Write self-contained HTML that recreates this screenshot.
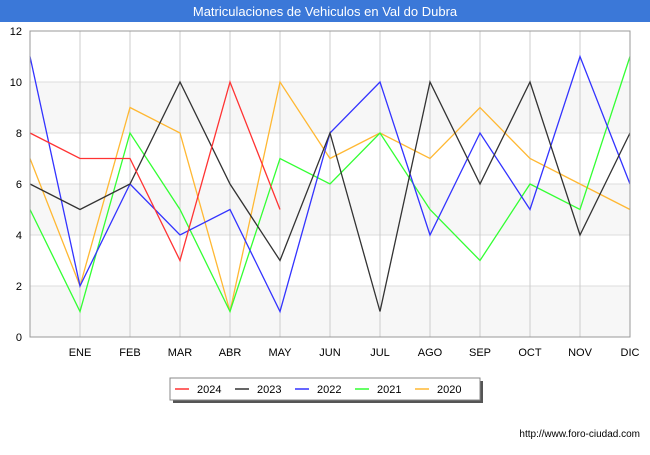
<!DOCTYPE html>
<html><head><meta charset="utf-8"><style>
body{margin:0;background:#fff;font-family:"Liberation Sans","DejaVu Sans",sans-serif;}
</style></head><body>
<svg width="650" height="450" xmlns="http://www.w3.org/2000/svg" font-family="Liberation Sans, DejaVu Sans, sans-serif">
<rect x="0" y="0" width="650" height="450" fill="#fff"/>
<rect x="0" y="0" width="650" height="22" fill="#3b78d8"/>
<text x="325" y="16" text-anchor="middle" fill="#fff" font-size="13">Matriculaciones de Vehiculos en Val do Dubra</text>
<g id="grid"></g>
<g id="series"></g>
<g id="axes"></g>
<g>
<rect x="173" y="381" width="310" height="22" fill="#555"/>
<rect x="170" y="378" width="310" height="22" fill="#fff" stroke="#888"/>
<g id="legend"></g>
</g>
<text x="640" y="437" text-anchor="end" font-size="10" fill="#000">http://www.foro-ciudad.com</text>
</svg>
<script>
const months=["","ENE","FEB","MAR","ABR","MAY","JUN","JUL","AGO","SEP","OCT","NOV","DIC"];
const yTicks=[0,2,4,6,8,10,12];
const years=["2024","2023","2022","2021","2020"];
const colors=["#ff3333","#333333","#3333ff","#33ff33","#ffb833"];
const s2024=[8,7,7,3,10,5];
const s2023=[6,5,6,10,6,3,8,1,10,6,10,4,8];
const s2022=[11,2,6,4,5,1,8,10,4,8,5,11,6];
const s2021=[5,1,8,5,1,7,6,8,5,3,6,5,11];
const s2020=[7,2,9,8,1,10,7,8,7,9,7,6,5];
const series=[s2024,s2023,s2022,s2021,s2020];
const X0=30,X1=630,Y0=337,Y1=31;
const xs=i=>X0+i*(X1-X0)/12;
const ys=v=>Y0-v*(Y0-Y1)/12;
const NS="http://www.w3.org/2000/svg";
function mk(t,a,p){const e=document.createElementNS(NS,t);for(const k in a)e.setAttribute(k,a[k]);p.appendChild(e);return e;}
const grid=document.getElementById('grid'),axes=document.getElementById('axes'),sg=document.getElementById('series'),lg=document.getElementById('legend');
for(let i=0;i<yTicks.length-1;i+=2){
 const r=mk('rect',{x:X0,y:ys(yTicks[i+1]),width:X1-X0,height:ys(yTicks[i])-ys(yTicks[i+1]),fill:'#f7f7f7'},grid);
 
 
}
yTicks.forEach(v=>{
 const l=mk('line',{x1:X0,x2:X1,y1:ys(v),y2:ys(v),stroke:'#ddd'},grid);
 
 
 const t=mk('text',{x:X0-8,y:ys(v)+4,'text-anchor':'end','font-size':11,fill:'#000'},axes);
 t.textContent=v;
 
 
});
months.forEach((m,i)=>{
 const l=mk('line',{x1:xs(i),x2:xs(i),y1:Y1,y2:Y0,stroke:'#ccc'},grid);
 
 
 if(m){const t=mk('text',{x:xs(i),y:356,'text-anchor':'middle','font-size':11,fill:'#000'},axes);
 t.textContent=m;
 
 }
});
const fr=mk('rect',{x:X0,y:Y1,width:X1-X0,height:Y0-Y1,fill:'none',stroke:'#999'},axes);


for(let k=series.length-1;k>=0;k--){
 const pts=series[k].map((v,i)=>xs(i)+','+ys(v)).join(' ');
 const p=mk('polyline',{points:pts,fill:'none',stroke:colors[k],'stroke-width':1.3},sg);
 
 
}
const lx=[175,235,295,355,415];
years.forEach((y,k)=>{
 const l=mk('line',{x1:lx[k],x2:lx[k]+14,y1:389,y2:389,stroke:colors[k],'stroke-width':1.5},lg);
 
 
 const t=mk('text',{x:lx[k]+22,y:393,'font-size':11,fill:'#000'},lg);
 t.textContent=y;
 
 
});
</script>
</body></html>
